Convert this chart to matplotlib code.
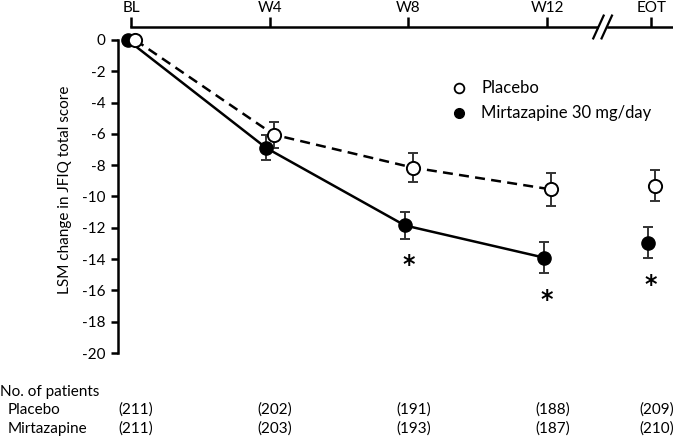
import numpy as np
import matplotlib
matplotlib.use('Agg')
import matplotlib.pyplot as plt
import matplotlib.transforms as mtrans

plt.rcParams['font.family'] = ['Lato', 'DejaVu Sans']

# visits and their position on the week axis
visits = ['BL', 'W4', 'W8', 'W12', 'EOT']
weeks = np.array([0, 4, 8, 12, 15])

# LSM change (mean, standard error)
placebo = np.array([0, -6.05, -8.15, -9.55, -9.3])
placebo_se = np.array([0, 0.83, 0.94, 1.05, 1.0])
mirt = np.array([0, -6.9, -11.85, -13.9, -12.95])
mirt_se = np.array([0, 0.8, 0.85, 1.0, 1.0])

# significance marks (visit indices)
sig_idx = [2, 3, 4]

# number of patients
n_placebo = [211, 202, 191, 188, 209]
n_mirt = [211, 203, 193, 187, 210]

fig = plt.figure(figsize=(6.73, 4.36), dpi=100)
ax = fig.add_axes([118/673, 1 - 353/436, 1 - 118/673, (353 - 27)/436])

xr_placebo = weeks + 0.12
xr_mirt = weeks - 0.1
line = slice(0, 4)  # EOT is not joined

ax.plot(xr_placebo[line], placebo[line], color='black', lw=1.8, ls=(0, (4, 2.5)), zorder=2)
ax.plot(xr_mirt[line], mirt[line], color='black', lw=1.8, zorder=2)

ax.errorbar(xr_mirt[1:], mirt[1:], yerr=mirt_se[1:], fmt='none', ecolor='#333333',
            elinewidth=1.4, capsize=3.5, capthick=1.4, zorder=3)
ax.errorbar(xr_placebo[1:], placebo[1:], yerr=placebo_se[1:], fmt='none', ecolor='#333333',
            elinewidth=1.4, capsize=3.5, capthick=1.4, zorder=3)

ax.plot(xr_mirt, mirt, ls='none', marker='o', ms=9.5, mfc='black', mec='black', zorder=4)
ax.plot(xr_placebo, placebo, ls='none', marker='o', ms=9.5, mfc='white', mec='black',
        mew=1.4, zorder=5)

for i in sig_idx:
    ax.text(weeks[i], mirt[i] - mirt_se[i] - 1.7, '*', ha='center', va='center',
            fontsize=17, fontweight='bold', family='DejaVu Sans')

# legend
ax.plot([9.45], [-3.05], ls='none', marker='o', ms=7, mfc='white', mec='black', mew=1.3,
        clip_on=False)
ax.plot([9.45], [-4.65], ls='none', marker='o', ms=7, mfc='black', mec='black', clip_on=False)
ax.text(10.1, -3.05, 'Placebo', va='center', ha='left', fontsize=12)
ax.text(10.1, -4.65, 'Mirtazapine 30 mg/day', va='center', ha='left', fontsize=12)

# axes
ax.set_xlim(-0.375, 15.63)
ax.set_ylim(-20, 0.83)
ax.spines['right'].set_visible(False)
ax.spines['bottom'].set_visible(False)
ax.spines['left'].set_bounds(-20, 0)
ax.spines['top'].set_bounds(0, 15.63)
ax.spines['left'].set_linewidth(1.8)
ax.spines['top'].set_linewidth(1.8)

ax.set_yticks(np.arange(0, -21, -2))
ax.set_yticklabels([str(v) for v in np.arange(0, -21, -2)])
ax.tick_params(axis='y', direction='out', length=5, width=1.8, labelsize=11, pad=4)

ax.xaxis.set_ticks_position('top')
ax.set_xticks(weeks)
ax.set_xticklabels(visits)
ax.tick_params(axis='x', top=True, bottom=False, labeltop=True, labelbottom=False,
               direction='out', length=7, width=1.8, labelsize=11, pad=2)

ax.set_ylabel('LSM change in JFIQ total score', fontsize=11, labelpad=7)

# axis break on top spine
brk = 13.6
trans = mtrans.blended_transform_factory(ax.transData, ax.transAxes)
ax.fill_between([brk - 0.1, brk + 0.1], [0.995, 0.995], [1.005, 1.005], color='white',
                transform=trans, clip_on=False, zorder=5)
for dx in (-0.12, 0.12):
    ax.plot([brk + dx - 0.15, brk + dx + 0.15], [0.965, 1.035], color='black', lw=1.6,
            transform=trans, clip_on=False, zorder=6)

# patient numbers
tr = mtrans.blended_transform_factory(ax.transData, fig.transFigure)
fig.text(0.0, 1 - 392/436, 'No. of patients', fontsize=11, va='center', ha='left')
fig.text(8/673, 1 - 410/436, 'Placebo', fontsize=11, va='center', ha='left')
fig.text(8/673, 1 - 429/436, 'Mirtazapine', fontsize=11, va='center', ha='left')
for w, a, b in zip(weeks, n_placebo, n_mirt):
    ax.text(w + 0.15, 1 - 410/436, f'({a})', transform=tr, fontsize=11, va='center', ha='center')
    ax.text(w + 0.15, 1 - 429/436, f'({b})', transform=tr, fontsize=11, va='center', ha='center')

fig.savefig('out.png', dpi=100)
